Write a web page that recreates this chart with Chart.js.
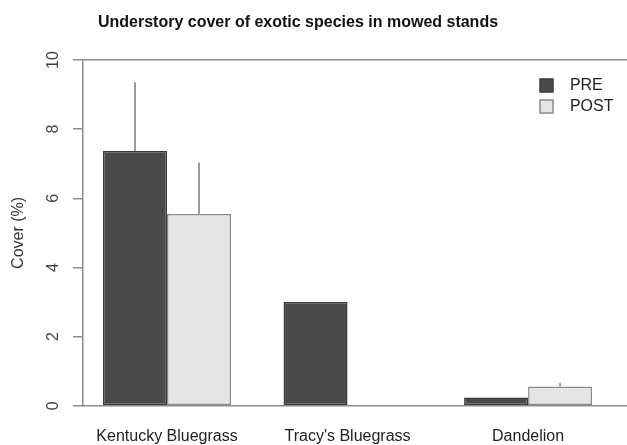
<!DOCTYPE html>
<html><head><meta charset="utf-8">
<script src="https://cdn.jsdelivr.net/npm/chart.js@4/dist/chart.umd.min.js"></script>
<style>html,body{margin:0;padding:0;background:#fff;overflow:hidden}</style>
</head><body>
<canvas id="c" width="627" height="445"></canvas>
<script>
const categories = ["Kentucky Bluegrass", "Tracy's Bluegrass", "Dandelion"];
const seriesNames = ["PRE", "POST"];
const preValues = [7.37, 3.0, 0.24];
const postValues = [5.55, 0, 0.56];
const preErrors = [1.99, 0, 0];
const postErrors = [1.48, 0, 0.10];
const yTicks = [0, 2, 4, 6, 8, 10];

const FONT = "'Liberation Sans', Arial, Helvetica, sans-serif";
const AXIS = '#8c8c8c';

const errorBars = {
  id: 'errorBars',
  afterDatasetsDraw(chart) {
    const ctx = chart.ctx;
    const y = chart.scales.y;
    const errs = [preErrors, postErrors];
    const vals = [preValues, postValues];
    ctx.save();
    ctx.strokeStyle = '#9a9a9a';
    ctx.lineWidth = 2;
    chart.data.datasets.forEach((ds, di) => {
      const meta = chart.getDatasetMeta(di);
      meta.data.forEach((bar, i) => {
        const e = errs[di][i];
        if (!e) return;
        const top = y.getPixelForValue(vals[di][i] + e);
        ctx.beginPath();
        ctx.moveTo(bar.x, bar.y);
        ctx.lineTo(bar.x, top);
        ctx.stroke();
      });
    });
    ctx.restore();
  }
};

const placeBlocks = {
  id: 'placeBlocks',
  afterLayout(chart) {
    const lg = chart.legend;
    if (lg) {
      const pad = lg.options.labels.padding;
      const nl = 540 - pad, nt = 72.5;
      const w = lg.width, h = lg.height;
      lg.left = nl; lg.right = nl + w; lg.top = nt; lg.bottom = nt + h;
    }
    const tb = chart.titleBlock;
    if (tb) { tb.left = 0; tb.right = 596; }
  }
};

new Chart(document.getElementById('c'), {
  type: 'bar',
  data: {
    datasets: [
      {
        label: seriesNames[0],
        data: preValues.map((v, i) => ({ x: i, y: v })),
        backgroundColor: '#4a4a4a',
        borderColor: '#3a3a3a',
        borderWidth: 1.5,
        borderSkipped: false,
        barPercentage: 1,
        categoryPercentage: 0.709
      },
      {
        label: seriesNames[1],
        data: postValues.map((v, i) => ({ x: i, y: v })),
        backgroundColor: '#e5e5e5',
        borderColor: '#8a8a8a',
        borderWidth: 1.5,
        borderSkipped: false,
        barPercentage: 1,
        categoryPercentage: 0.709
      }
    ]
  },
  options: {
    responsive: false,
    animation: false,
    devicePixelRatio: 1,
    layout: { padding: { left: 0, right: 0, top: 0, bottom: 0 } },
    plugins: {
      title: {
        display: true,
        text: 'Understory cover of exotic species in mowed stands',
        font: { family: FONT, size: 16, weight: 'bold' },
        color: '#111',
        padding: { top: 13.4, bottom: 27.4 }
      },
      legend: {
        position: 'chartArea',
        align: 'start',
        labels: {
          boxWidth: 13,
          boxHeight: 13,
          padding: 5,
          color: '#222',
          font: { family: FONT, size: 16 },
          generateLabels: (chart) => Chart.defaults.plugins.legend.labels.generateLabels(chart)
            .map(l => Object.assign(l, { text: '  ' + l.text }))
        }
      },
      tooltip: { enabled: false }
    },
    scales: {
      x: {
        type: 'linear',
        min: -0.4654,
        max: 2.548,
        offset: false,
        afterBuildTicks: (s) => { s.ticks = categories.map((c, i) => ({ value: i })); },
        afterFit: (s) => { s.height = 39.2; s.paddingLeft = 0; s.paddingRight = 0; },
        ticks: {
          callback: (v) => categories[v],
          autoSkip: false,
          maxRotation: 0,
          padding: 21.5,
          color: '#222',
          font: { family: FONT, size: 16 }
        },
        grid: { display: false, drawTicks: false },
        border: { display: true, color: AXIS, width: 1.5 }
      },
      y: {
        min: 0,
        max: 10,
        afterBuildTicks: (s) => { s.ticks = yTicks.map(v => ({ value: v })); },
        afterFit: (s) => { s.width = 83; s.paddingTop = 0; s.paddingBottom = 0; },
        ticks: {
          minRotation: 90,
          maxRotation: 90,
          crossAlign: 'center',
          padding: 11,
          color: '#444',
          font: { family: FONT, size: 16 }
        },
        grid: {
          color: (c) => (c.tick && c.tick.value === 10) ? AXIS : 'rgba(0,0,0,0)',
          tickColor: AXIS,
          tickLength: 10,
          lineWidth: 1.5,
          drawTicks: true
        },
        border: { display: true, color: AXIS, width: 1.5 },
        title: {
          display: true,
          text: 'Cover (%)',
          color: '#333',
          font: { family: FONT, size: 16 },
          padding: { top: 9.4, bottom: 4.2 }
        }
      }
    }
  },
  plugins: [errorBars, placeBlocks]
});
</script>
</body></html>
